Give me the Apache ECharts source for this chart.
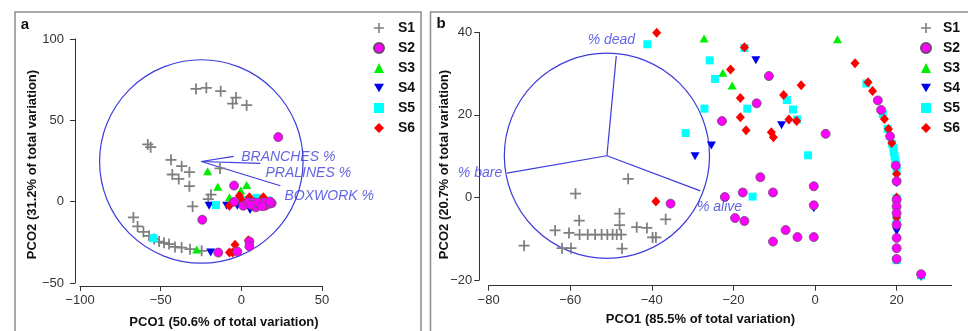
<!DOCTYPE html>
<html><head><meta charset="utf-8">
<script src="https://cdn.jsdelivr.net/npm/echarts@6/dist/echarts.min.js"></script>
<style>html,body{margin:0;padding:0;background:#fff}#c{width:968px;height:331px}</style>
</head><body><div id="c"></div>
<script>
// ---------- data: panel a ----------
var seriesNames = ['S1','S2','S3','S4','S5','S6'];
var aS1 = [[-28.1,69.3],[-21.7,70],[-12.8,67.9],[-3.3,64],[-5.4,60.3],[3.3,59.3],[-58,35.2],[-56.2,33.5],[-43.6,25.7],[-37,21.8],[-32.2,18.1],[-42.8,16.7],[-38.8,14],[-32.2,9.5],[-13.2,20.4],[-18.8,4.3],[-20.5,1.6],[-30.2,-2.9],[-66.9,-9.7],[-64.3,-15.2],[-60.7,-18.5],[-57.2,-21],[-54.1,-23],[-51,-24.5],[-47.9,-25.3],[-44.8,-26.1],[-41.1,-27.8],[-37,-28.2],[-31.8,-29.2],[-24.6,-30.2]];
var aS2 = [[22.9,39.7],[-4.5,9.9],[-24.2,-11.1],[-14.3,-31.3],[-2.5,-30.7],[5,-24.5],[5,-27.5],[-4.3,0],[1.2,-2.5],[4.3,-0.4],[7.9,-0.4],[9,-3.5],[11.6,-1.9],[14.7,-2.5],[16.7,-1.4],[18.8,-1],[13.6,-0.4],[17.8,0],[6,-2],[10.5,-0.6],[12.8,-2.8]];
var aS3 = [[-20.9,18.7],[-14.6,9.2],[3.3,10.2],[-0.4,6.8],[-7.4,2.7],[-27.7,-29.4]];
var aS4 = [[-20,-2.5],[-9.1,-2.5],[-19,-31.3],[-2.5,-2.5],[5.4,-5.1],[1.2,0.6]];
var aS5 = [[-15.7,-2.1],[2.3,1],[9.5,2.3],[16.7,0.6],[-54.5,-22.4]];
var aS6 = [[-7.4,-2.5],[-1.2,3.7],[5,2.7],[13.6,2.7],[4.3,0.6],[18.8,-0.4],[-3.9,-26.5],[-7.4,-31.3],[4.3,-23.7],[-5.4,-31.3],[0.6,0.6],[9.5,-1.4]];
var aCircle = [[-24.8,24.7,62.8]];
var aVectors = [[-24.8,24.7,-4.8,27.8],[-24.8,24.7,11.8,23.5],[-24.8,24.7,24.2,9.8]];
var aVecNames = ['BRANCHES %','PRALINES %','BOXWORK %'];
var aVecLabelAt = [[29.1,27.6],[41.5,17.8],[54.5,3.7]];
var aXTitle = 'PCO1 (50.6% of total variation)';
var aYTitle = 'PCO2 (31.2% of total variation)';

// ---------- data: panel b ----------
var bS1 = [[-45.8,4.5],[-58.7,0.9],[-57.8,-5.6],[-47.9,-3.9],[-47.9,-6.7],[-43.7,-7.2],[-41.2,-7.4],[-36.6,-5.3],[-39.8,-9.7],[-39,-9.7],[-47.3,-12.4],[-63.7,-8],[-60.3,-8.6],[-57.7,-9],[-55.7,-9],[-53.9,-9],[-52.3,-9],[-50.9,-9],[-49.6,-9],[-48.6,-9],[-47.5,-9],[-62,-12.3],[-59.8,-12.3],[-71.3,-11.7]];
var bS2 = [[-35.4,-1.5],[-11.3,29.4],[-14.3,22.8],[-22.8,18.5],[2.6,15.4],[-13.4,4.9],[-22.1,0.1],[-17.7,1.2],[-10.3,1.2],[-0.3,2.7],[-0.3,-1.9],[-19.6,-5],[-17.3,-5.7],[-7.2,-7.9],[-10.3,-10.7],[-4.3,-9.6],[-0.3,-9.6],[15.4,23.5],[16.2,21.2],[18.4,14.8],[19.8,7.7],[20,3.9],[20,-0.6],[20,-2.2],[20,-3.8],[20,-6.6],[20,-9.8],[20,-12.3],[20,-14.9],[26,-18.6]];
var bS3 = [[-27.2,38.5],[5.5,38.3],[-22.6,30.2],[-20.3,27.1]];
var bS4 = [[-14.5,33.2],[-25.4,12.6],[-29.4,10],[-8.2,17.5],[-0.3,-2.6],[20,-8.2],[20,3.5],[26,-19.3]];
var bS5 = [[-41.1,37.1],[-25.8,33.2],[-24.5,28.7],[-27.1,21.5],[-31.7,15.6],[-16.6,21.5],[-6.9,23.6],[-5.4,21.3],[-1.7,10.2],[-15.3,0.2],[-17.3,36.2],[-4.4,18.9],[12.6,27.6],[16.6,20.2],[17.8,16.6],[18.9,13],[19.2,12],[19.3,11],[19.5,10],[19.7,9],[19.9,8],[20,6.5],[20,-0.2],[20,-5.4],[20,-15.2],[26,-18.9]];
var bS6 = [[-38.8,39.9],[-39,-1],[-17.3,36.4],[-20.7,31],[-18.3,24.1],[-18.3,19.4],[-16.9,16.3],[-7.7,24.8],[-3.4,27.2],[-6.4,18.9],[-4.5,18.5],[-10.7,15.8],[-10.2,14.6],[9.8,32.5],[13,27.9],[14.1,25.8],[17,19],[18,16.6],[18.8,13.2],[20,5.7],[20,-4.8],[20,0]];
var bCircle = [[-51.0,10.1,25.0]];
var bVectors = [[-51.0,10.1,-48.7,34.3],[-51.0,10.1,-75.5,5.9],[-51.0,10.1,-28.1,1.6]];
var bVecNames = ['% dead','% bare','% alive'];
var bVecLabelAt = [[-49.9,38.2],[-82.1,5.9],[-23.4,-2.3]];
var bXTitle = 'PCO1 (85.5% of total variation)';
var bYTitle = 'PCO2 (20.7% of total variation)';

// ---------- styles ----------
var FONT = '"Liberation Sans", Arial, sans-serif';
var VEC = '#3c3cdc';
var crossPath = 'path://M0,4.2H10V5.8H0Z M4.2,0H5.8V10H4.2Z';
var downTri = 'path://M0,0L10,0L5,8.7Z';
var styles = {
  S1: {symbol: crossPath, size: 11, color: '#7f7f7f'},
  S2: {symbol: 'circle', size: 9, color: '#ff00ff', border: '#6a4a6a'},
  S3: {symbol: 'triangle', size: [9, 8], color: '#00ee00'},
  S4: {symbol: downTri, size: [9, 8], color: '#0000ee'},
  S5: {symbol: 'rect', size: 8, color: '#00ffff'},
  S6: {symbol: 'diamond', size: [9, 10], color: '#ff0000'}
};
var drawOrder = ['S1','S3','S4','S5','S6','S2'];
var panelData = [
  {S1:aS1,S2:aS2,S3:aS3,S4:aS4,S5:aS5,S6:aS6},
  {S1:bS1,S2:bS2,S3:bS3,S4:bS4,S5:bS5,S6:bS6}
];

function fmt(v){ return String(v).replace('-', '\u2212'); }

function axisCommon(extra){
  var o = {
    type: 'value', splitLine: {show: false},
    axisLine: {show: true, onZero: false, lineStyle: {color: '#333', width: 1}},
    axisTick: {show: true, length: 5, lineStyle: {color: '#333'}},
    axisLabel: {color: '#333', fontSize: 13, fontFamily: FONT, formatter: fmt}
  };
  for (var k in extra) {
    if (k === 'axisLabel') { for (var j in extra.axisLabel) o.axisLabel[j] = extra.axisLabel[j]; }
    else o[k] = extra[k];
  }
  return o;
}

var series = [];
[0,1].forEach(function(p){
  drawOrder.forEach(function(n){
    var s = styles[n];
    series.push({
      type: 'scatter', name: n, xAxisIndex: p, yAxisIndex: p,
      data: panelData[p][n], symbol: s.symbol, symbolSize: s.size,
      itemStyle: {color: s.color, borderColor: s.border || s.color, borderWidth: s.border ? 0.8 : 0, opacity: 1},
      clip: false, silent: true, z: 3
    });
  });
});

function circleSeries(p, data){
  return {type: 'custom', xAxisIndex: p, yAxisIndex: p, data: data, silent: true, z: 2, clip: false,
    renderItem: function(params, api){
      var c = api.coord([api.value(0), api.value(1)]);
      var s = api.size([api.value(2), api.value(2)]);
      return {type: 'circle', shape: {cx: c[0], cy: c[1], r: (s[0] + s[1]) / 2},
        style: {fill: 'none', stroke: VEC, lineWidth: 1.2}};
    }};
}
function vectorSeries(p, data){
  return {type: 'custom', xAxisIndex: p, yAxisIndex: p, data: data, silent: true, z: 2, clip: false,
    renderItem: function(params, api){
      var a = api.coord([api.value(0), api.value(1)]);
      var b = api.coord([api.value(2), api.value(3)]);
      return {type: 'line', shape: {x1: a[0], y1: a[1], x2: b[0], y2: b[1]},
        style: {stroke: VEC, lineWidth: 1.2}};
    }};
}
function labelSeries(p, pos, names){
  return {type: 'scatter', xAxisIndex: p, yAxisIndex: p, silent: true, clip: false, z: 4,
    symbolSize: 0,
    data: pos.map(function(v, i){ return {value: v, name: names[i]}; }),
    label: {show: true, position: [0, 0], align: 'center', verticalAlign: 'middle',
      formatter: '{b}', color: VEC, fontSize: 14, fontStyle: 'italic', fontFamily: FONT}
  };
}
series.push(circleSeries(0, aCircle), vectorSeries(0, aVectors), labelSeries(0, aVecLabelAt, aVecNames));
series.push(circleSeries(1, bCircle), vectorSeries(1, bVectors), labelSeries(1, bVecLabelAt, bVecNames));

function legendData(){
  return seriesNames.map(function(n){ return {name: n, icon: styles[n].symbol}; });
}
function legend(left, pad){
  return {orient: 'vertical', left: left, top: 21, padding: 0, itemWidth: 10, itemHeight: 10, itemGap: 6,
    data: legendData(), selectedMode: false,
    textStyle: {fontSize: 14, fontWeight: 'bold', color: '#111', fontFamily: FONT, lineHeight: 14, padding: [0,0,0,pad]}};
}

var titleStyle = {fontSize: 13, fontWeight: 'bold', fill: '#111', fontFamily: FONT, align: 'center', verticalAlign: 'middle'};
function t(text, x, y, rot, extra){
  var st = {text: text};
  for (var k in titleStyle) st[k] = titleStyle[k];
  if (extra) for (var j in extra) st[j] = extra[j];
  return {type: 'text', x: x, y: y, rotation: rot || 0, style: st, silent: true};
}

var option = {
  animation: false,
  backgroundColor: '#fff',
  grid: [
    {left: 80, right: 646, top: 39, bottom: 48, outerBoundsMode: 'none'},
    {left: 488.6, right: 16.3, top: 32.3, bottom: 51, outerBoundsMode: 'none'}
  ],
  xAxis: [
    axisCommon({gridIndex: 0, min: -100, max: 50, interval: 50, offset: 3, axisLabel: {margin: 8}}),
    axisCommon({gridIndex: 1, min: -80, max: 33.5, interval: 20, offset: 5.7, axisLabel: {margin: 8, showMaxLabel: false}})
  ],
  yAxis: [
    axisCommon({gridIndex: 0, min: -50, max: 100, interval: 50, offset: 5, axisLabel: {margin: 11}}),
    axisCommon({gridIndex: 1, min: -20, max: 40, interval: 20, offset: 9.4, axisLabel: {margin: 7}})
  ],
  legend: [legend(373, 9), legend(920, 7)],
  graphic: [
    {type: 'rect', shape: {x: 15, y: 12, width: 406, height: 340}, style: {fill: 'none', stroke: '#8c8c8c', lineWidth: 1.5}, silent: true},
    {type: 'rect', shape: {x: 430.5, y: 12, width: 560, height: 340}, style: {fill: 'none', stroke: '#8c8c8c', lineWidth: 1.5}, silent: true},
    t('a', 25, 25, 0, {fontSize: 15}),
    t('b', 441, 24, 0, {fontSize: 15}),
    t(aXTitle, 224, 322),
    t(bXTitle, 700.5, 319.5),
    t(aYTitle, 32, 164.5, Math.PI / 2),
    t(bYTitle, 444.4, 164.5, Math.PI / 2)
  ],
  series: series
};
var chart = echarts.init(document.getElementById('c'), null, {renderer: 'canvas'});
chart.setOption(option);
</script></body></html>
